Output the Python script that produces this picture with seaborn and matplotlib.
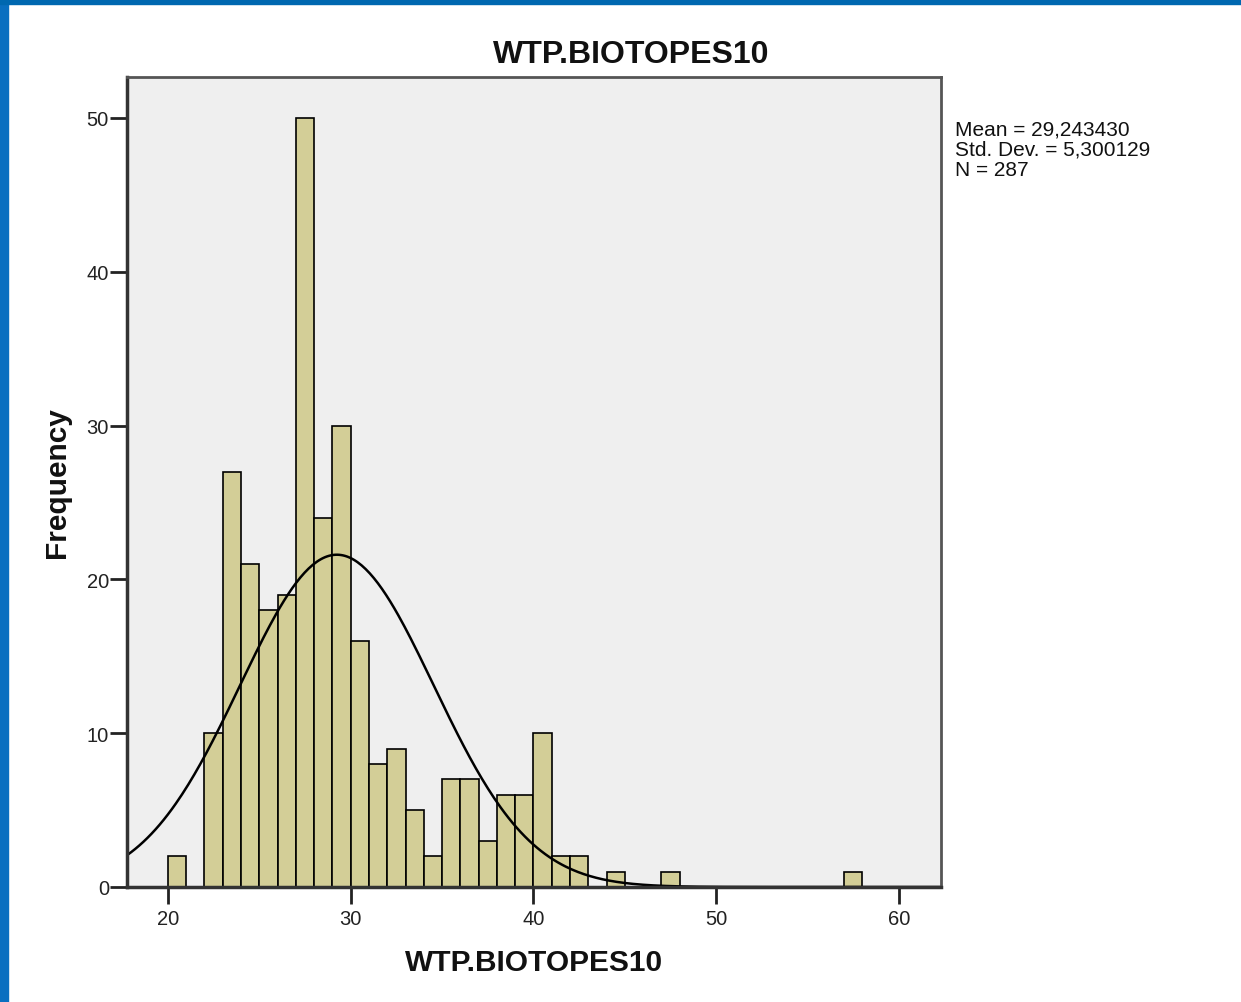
import numpy as np
import pandas as pd
import matplotlib
matplotlib.use("Agg")
import matplotlib.pyplot as plt
import seaborn as sns

# ---- data ----
bin_left = [20, 21, 22, 23, 24, 25, 26, 27, 28, 29, 30, 31, 32, 33, 34, 35, 36, 37, 38, 39,
            40, 41, 42, 43, 44, 45, 46, 47, 48, 49, 50, 51, 52, 53, 54, 55, 56, 57]
counts = [2, 0, 10, 27, 21, 18, 19, 50, 24, 30, 16, 8, 9, 5, 2, 7, 7, 3, 6, 6,
          10, 2, 2, 0, 1, 0, 0, 1, 0, 0, 0, 0, 0, 0, 0, 0, 0, 1]
stat_mean = 29.243430
stat_sd = 5.300129
stat_n = 287
x_ticks = [20, 30, 40, 50, 60]
y_ticks = [0, 10, 20, 30, 40, 50]
title = "WTP.BIOTOPES10"
x_label = "WTP.BIOTOPES10"
y_label = "Frequency"
stats_text = "Mean = 29,243430\nStd. Dev. = 5,300129\nN = 287"

df = pd.DataFrame({"value": np.array(bin_left, dtype=float) + 0.5,
                   "count": np.array(counts, dtype=float)})

sns.set_style("white")
plt.rcParams["font.family"] = ["Liberation Sans", "DejaVu Sans"]

fig = plt.figure(figsize=(12.41, 10.03), dpi=100)
fig.patch.set_facecolor("white")
# slide border (blue)
fig.patches.append(plt.Rectangle((0, 0), 8 / 1241, 1, transform=fig.transFigure,
                                 color="#0a6fc0", zorder=0))
fig.patches.append(plt.Rectangle((0, 1 - 5 / 1003), 1, 5 / 1003, transform=fig.transFigure,
                                 color="#0068b0", zorder=0))

ax = fig.add_axes([127 / 1241, 1 - 888 / 1003, (941 - 127) / 1241, (888 - 78) / 1003])
ax.set_facecolor("#efefef")

sns.histplot(data=df, x="value", weights="count", binwidth=1,
             binrange=(bin_left[0], bin_left[-1] + 1), ax=ax,
             color="#d3ce97", edgecolor="black", linewidth=1.2, alpha=1.0)

xlim = (17.76, 62.3)
xs = np.linspace(xlim[0], xlim[1], 400)
ys = stat_n * 1.0 * np.exp(-0.5 * ((xs - stat_mean) / stat_sd) ** 2) / (stat_sd * np.sqrt(2 * np.pi))
sns.lineplot(x=xs, y=ys, ax=ax, color="black", linewidth=1.8)

ax.set_xlim(*xlim)
ax.set_ylim(0, 52.66)
ax.set_xticks(x_ticks)
ax.set_yticks(y_ticks)
ax.tick_params(axis="both", bottom=True, left=True, direction="out", length=12, width=2,
               color="#222222", labelsize=14.5, labelcolor="#222222")
ax.tick_params(axis="x", pad=4)
ax.tick_params(axis="y", pad=1)

for side in ["left", "bottom"]:
    ax.spines[side].set_linewidth(2.5)
    ax.spines[side].set_color("#333333")
for side in ["top", "right"]:
    ax.spines[side].set_linewidth(2)
    ax.spines[side].set_color("#555555")
    ax.spines[side].set_visible(True)

fig.text(631 / 1241, 1 - 55 / 1003, title, fontsize=23, fontweight="bold",
         ha="center", va="center", color="#111111")
ax.set_xlabel(x_label, fontsize=21.5, fontweight="bold", labelpad=14, color="#111111")
ax.set_ylabel(y_label, fontsize=21.5, fontweight="bold", labelpad=11, color="#111111")

fig.text(955 / 1241, 1 - 121 / 1003, stats_text, fontsize=15, va="top", ha="left",
         linespacing=1.05, color="#111111")

fig.savefig("out.png", dpi=100)
